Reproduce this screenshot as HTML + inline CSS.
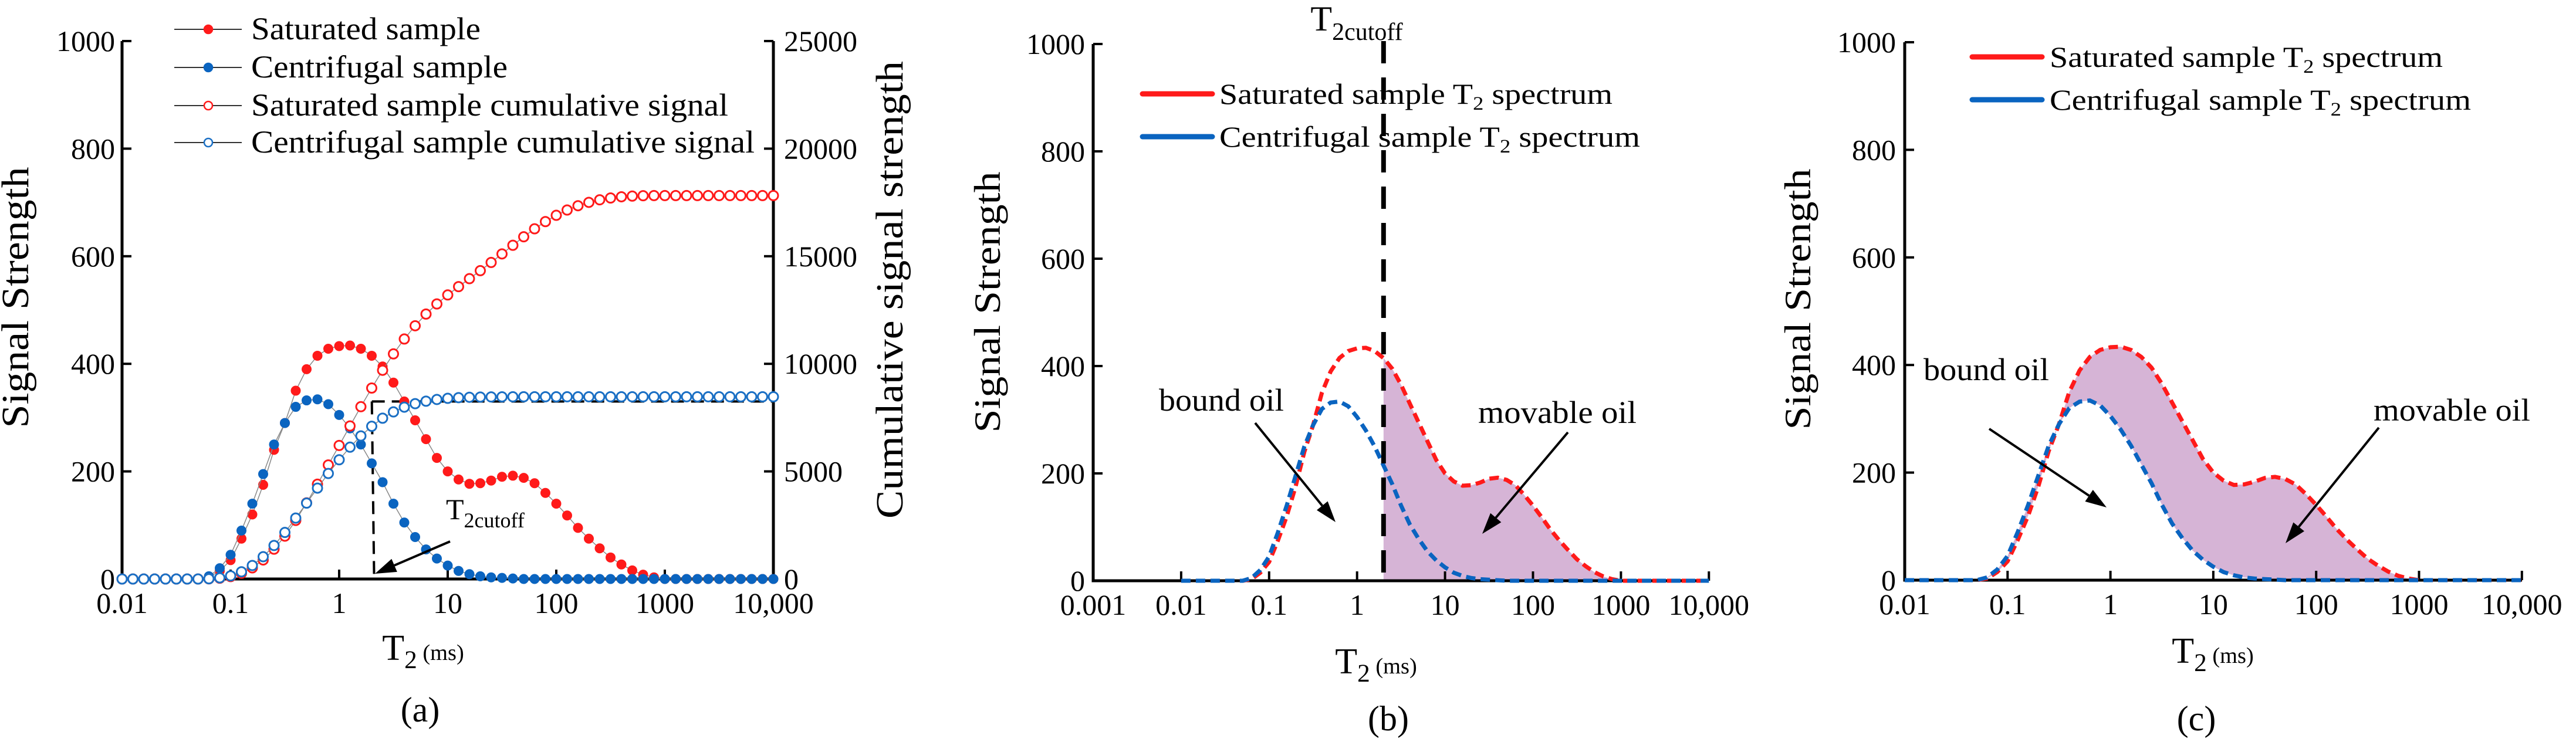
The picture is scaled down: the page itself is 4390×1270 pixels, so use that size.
<!DOCTYPE html>
<html><head><meta charset="utf-8"><style>
html,body{margin:0;padding:0;background:#fff;}
svg{display:block;font-family:"Liberation Serif",serif;}
</style></head><body>
<svg id="fig" xmlns="http://www.w3.org/2000/svg" width="4390" height="1270" viewBox="0 0 4390 1270">
<rect x="0" y="0" width="4390" height="1270" fill="#fff"/>
<g id="pa"></g>
<g id="pb"></g>
<g id="pc"></g>
</svg>
<script>
// log grid: T2 = 10^(-2 + i/10), i = 0..60 (0.01 .. 10000 ms)
const gridExp = [];
for (let i = 0; i <= 60; i++) gridExp.push(-2 + i / 10);
const saturated = [0,0,0,0,0,0,0,0,3,15,35,75,120,175,240,290,350,390,415,428,433,434,428,415,395,365,330,295,260,225,200,185,177,178,183,190,192,188,178,160,140,118,95,75,57,40,27,16,8,3,0,0,0,0,0,0,0,0,0,0,0];
const centrifugal = [0,0,0,0,0,0,0,0,5,20,45,90,140,195,250,290,320,332,334,325,305,280,250,215,180,140,105,78,55,38,25,15,9,5,3,2,1,0,0,0,0,0,0,0,0,0,0,0,0,0,0,0,0,0,0,0,0,0,0,0,0];
const cumFactor = 2.09; // points-per-decade of original acquisition / plotted grid
const cutoffT2 = 2;
const yTicks = [0,200,400,600,800,1000];
const yRightTicks = [0,5000,10000,15000,20000,25000];
const xTickExpA = [-2,-1,0,1,2,3,4];
const xTickLabelsA = ["0.01","0.1","1","10","100","1000","10,000"];
const xTickExpB = [-3,-2,-1,0,1,2,3,4];
const xTickLabelsB = ["0.001","0.01","0.1","1","10","100","1000","10,000"];

const NS = "http://www.w3.org/2000/svg";
function mk(parent, tag, attrs, text) {
  const e = document.createElementNS(NS, tag);
  for (const k in attrs) e.setAttribute(k, attrs[k]);
  if (text !== undefined) e.textContent = text;
  parent.appendChild(e);
  return e;
}
function cumsum(arr) { let s = 0; return arr.map(v => (s += v) * cumFactor); }
const satCum = cumsum(saturated), cenCum = cumsum(centrifugal);

function axes(g, x0, x1, y0, y1, xs, xTickExp, xTickLabels, ys, labelRight, fs) {
  let e = mk(g, 'path', {d:`M${x0},${y1} V${y0} H${x1}`, fill:'none', stroke:'#000', 'stroke-width':5});
   
  yTicks.forEach(v => {
    const y = ys(v);
    let t = mk(g, 'line', {x1:x0, x2:x0+16, y1:y, y2:y, stroke:'#000','stroke-width':4});
     
    let l = mk(g, 'text', {x:labelRight, y:y+17, 'text-anchor':'end','font-size':fs}, String(v));
     
  });
  xTickExp.forEach((ex, k) => {
    const x = xs(Math.pow(10, ex));
    if (k > 0) {
      let t = mk(g, 'line', {x1:x, x2:x, y1:y0, y2:y0-16, stroke:'#000','stroke-width':4});
       
    }
    let l = mk(g, 'text', {x:x, y:y0+58, 'text-anchor':'middle','font-size':fs}, xTickLabels[k]);
     
  });
}
function linePath(xs, ys, vals, from, to) {
  let d = '';
  for (let i = from; i <= to; i++) d += (i === from ? 'M' : 'L') + xs(Math.pow(10, gridExp[i])).toFixed(1) + ',' + ys(vals[i]).toFixed(1);
  return d;
}
function t2Label(g, cx, y, fs) {
  const t = mk(g, 'text', {x:cx, y:y, 'text-anchor':'middle', 'font-size':fs});
   
  mk(t, 'tspan', {}, 'T');
  mk(t, 'tspan', {dy:14, 'font-size':fs*0.7}, '2');
  mk(t, 'tspan', {dy:-14, 'font-size':fs*0.62}, '\u00a0(ms)');
}
function ylabel(g, cx, cy, txt, fs, len, name) {
  const t = mk(g, 'text', {x:0, y:0, transform:`translate(${cx},${cy}) rotate(-90)`, 'text-anchor':'middle', 'font-size':fs, textLength:len, lengthAdjust:'spacingAndGlyphs'}, txt);
   
}
function arrow(g, x1, y1, x2, y2, name) {
  const a = Math.atan2(y2-y1, x2-x1), L = 36, W = 12;
  const bx = x2 - L*Math.cos(a), by = y2 - L*Math.sin(a);
  const grp = mk(g, 'g', {});
   
  mk(grp, 'line', {x1:x1, y1:y1, x2:bx, y2:by, stroke:'#000', 'stroke-width':4});
  mk(grp, 'polygon', {points:`${x2},${y2} ${bx - W*Math.sin(a)},${by + W*Math.cos(a)} ${bx + W*Math.sin(a)},${by - W*Math.cos(a)}`, fill:'#000'});
}
function legendSub(g, x, y, main, tail, fs, len, name) {
  const t = mk(g, 'text', {x:x, y:y, 'font-size':fs, textLength:len, lengthAdjust:'spacingAndGlyphs'});
   
  mk(t, 'tspan', {}, main);
  mk(t, 'tspan', {dy:10, 'font-size':fs*0.65}, '2');
  mk(t, 'tspan', {dy:-10}, tail);
}

/* ---------- Panel A ---------- */
(function(){
  const g = document.getElementById('pa');
  const x0 = 208, x1 = 1318, y0 = 987, y1 = 70;
  const xs = t => x0 + 185 * (Math.log10(t) + 2);
  const ys = v => y0 - (y0 - y1) * v / 1000;
  const yr = v => y0 - (y0 - y1) * v / 25000;
  axes(g, x0, x1, y0, y1, xs, xTickExpA, xTickLabelsA, ys, 196, 50);
  let r = mk(g, 'line', {x1:x1, x2:x1, y1:y0, y2:y1, stroke:'#000', 'stroke-width':5});
   
  yRightTicks.forEach(v => {
    const y = yr(v);
    let t = mk(g, 'line', {x1:x1, x2:x1-16, y1:y, y2:y, stroke:'#000','stroke-width':4});
     
    let l = mk(g, 'text', {x:1336, y:y+17, 'font-size':50}, String(v));
     
  });
  // cutoff dashed guides
  const cx = xs(cutoffT2), cyv = ys(330);
  let d1 = mk(g, 'path', {d:`M${cx},${cyv} H${x1} M${cx},${cyv} L${xs(2.1)},${y0}`, fill:'none', stroke:'#000','stroke-width':4,'stroke-dasharray':'22 12'});
   
  const series = [
    {vals:saturated, scale:ys, color:'#ff1a1a', fill:true, name:'saturated-series'},
    {vals:centrifugal, scale:ys, color:'#0a64c0', fill:true, name:'centrifugal-series'},
    {vals:satCum, scale:yr, color:'#ff1a1a', fill:false, name:'saturated-cumulative-series'},
    {vals:cenCum, scale:yr, color:'#1a6fc4', fill:false, name:'centrifugal-cumulative-series'}
  ];
  series.forEach(s => {
    const sg = mk(g, 'g', {});
     
    mk(sg, 'path', {d:linePath(xs, s.scale, s.vals, 0, 60), fill:'none', stroke:'#888', 'stroke-width':1.5});
    for (let i = 0; i <= 60; i++) {
      const c = mk(sg, 'circle', {cx:xs(Math.pow(10, gridExp[i])), cy:s.scale(s.vals[i]), r:8,
        fill: s.fill ? s.color : '#fff', stroke:s.color, 'stroke-width': s.fill ? 1 : 3});
       
    }
  });
  arrow(g, 767, 923, 639, 978, 'cutoff-arrow');
  const tc = mk(g, 'text', {x:760, y:885, 'font-size':50});
   
  mk(tc, 'tspan', {}, 'T'); mk(tc, 'tspan', {dy:14, 'font-size':36}, '2cutoff');
  // legend
  const leg = [['#ff1a1a', true, 'Saturated sample', 391], ['#0a64c0', true, 'Centrifugal sample', 437],
               ['#ff1a1a', false, 'Saturated sample cumulative signal', 813], ['#1a6fc4', false, 'Centrifugal sample cumulative signal', 858]];
  const lys = [50, 115, 180, 243];
  leg.forEach((L, k) => {
    const lg = mk(g, 'g', {});
     
    mk(lg, 'line', {x1:297, x2:412, y1:lys[k], y2:lys[k], stroke:'#333', 'stroke-width':2});
    mk(lg, 'circle', {cx:355, cy:lys[k], r:7, fill: L[1] ? L[0] : '#fff', stroke:L[0], 'stroke-width':2.5});
    mk(lg, 'text', {x:428, y:lys[k]+17, 'font-size':54, textLength:L[3], lengthAdjust:'spacingAndGlyphs'}, L[2]);
  });
  ylabel(g, 48, 507, 'Signal Strength', 66, 445, 'y-axis-title');
  ylabel(g, 1538, 494, 'Cumulative signal strength', 66, 780, 'right-y-axis-title');
  t2Label(g, 721, 1125, 62);
  const pl = mk(g, 'text', {x:716, y:1230, 'text-anchor':'middle', 'font-size':60}, '(a)');
   
})();

/* ---------- Panel B ---------- */
(function(){
  const g = document.getElementById('pb');
  const x0 = 1863, x1 = 2912, y0 = 990, y1 = 75;
  const xs = t => x0 + 149.9 * (Math.log10(t) + 3);
  const ys = v => y0 - (y0 - y1) * v / 1000;
  // fill movable oil: under saturated curve for T2 >= cutoff
  const iCut = gridExp.findIndex(e => Math.pow(10, e) >= cutoffT2 - 0.01);
  let d = `M${xs(cutoffT2)},${y0} L${xs(cutoffT2)},${ys(saturated[iCut])}` + linePath(xs, ys, saturated, iCut, 50).replace(/^M/, 'L') + `L${xs(Math.pow(10, gridExp[50]))},${y0}Z`;
  let f = mk(g, 'path', {d:d, fill:'#d6b4d6'});
   
  axes(g, x0, x1, y0, y1, xs, xTickExpB, xTickLabelsB, ys, 1849, 50);
  let rc = mk(g, 'path', {d:linePath(xs, ys, saturated, 0, 60), fill:'none', stroke:'#ff1a1a','stroke-width':7,'stroke-dasharray':'16 9'});
   
  let bc = mk(g, 'path', {d:linePath(xs, ys, centrifugal, 0, 60), fill:'none', stroke:'#0a64c0','stroke-width':7,'stroke-dasharray':'16 9'});
   
  let cl = mk(g, 'line', {x1:xs(cutoffT2), x2:xs(cutoffT2), y1:70, y2:y0, stroke:'#000','stroke-width':8,'stroke-dasharray':'38 24'});
   
  const tc = mk(g, 'text', {x:2312, y:52, 'font-size':60, 'text-anchor':'middle'});
   
  mk(tc, 'tspan', {}, 'T'); mk(tc, 'tspan', {dy:16, 'font-size':42}, '2cutoff');
  [['#ff1a1a', 160, 'Saturated sample ', ' spectrum', 670, 'legend-saturated'], ['#0a64c0', 233, 'Centrifugal sample ', ' spectrum', 717, 'legend-centrifugal']].forEach(L => {
    let ln = mk(g, 'line', {x1:1947, x2:2066, y1:L[1], y2:L[1], stroke:L[0], 'stroke-width':9, 'stroke-linecap':'round'});
     
    legendSub(g, 2078, L[1]+17, L[2] + 'T', L[3], 50, L[4], L[5]);
  });
  let bo = mk(g, 'text', {x:1975, y:700, 'font-size':54, textLength:213, lengthAdjust:'spacingAndGlyphs'}, 'bound oil');
   
  arrow(g, 2139, 721, 2276, 890, 'bound-oil-arrow');
  let mo = mk(g, 'text', {x:2519, y:721, 'font-size':54, textLength:270, lengthAdjust:'spacingAndGlyphs'}, 'movable oil');
   
  arrow(g, 2672, 737, 2526, 910, 'movable-oil-arrow');
  ylabel(g, 1704, 515, 'Signal Strength', 64, 445, 'y-axis-title');
  t2Label(g, 2345, 1148, 62);
  const pl = mk(g, 'text', {x:2366, y:1245, 'text-anchor':'middle', 'font-size':60}, '(b)');
   
})();

/* ---------- Panel C ---------- */
(function(){
  const g = document.getElementById('pc');
  const x0 = 3246, x1 = 4298, y0 = 989, y1 = 72;
  const xs = t => x0 + 175.3 * (Math.log10(t) + 2);
  const ys = v => y0 - (y0 - y1) * v / 1000;
  let d = linePath(xs, ys, saturated, 8, 50);
  for (let i = 50; i >= 8; i--) d += 'L' + xs(Math.pow(10, gridExp[i])).toFixed(1) + ',' + ys(centrifugal[i]).toFixed(1);
  let f = mk(g, 'path', {d:d + 'Z', fill:'#d6b4d6'});
   
  axes(g, x0, x1, y0, y1, xs, xTickExpA, xTickLabelsA, ys, 3231, 50);
  let rc = mk(g, 'path', {d:linePath(xs, ys, saturated, 0, 60), fill:'none', stroke:'#ff1a1a','stroke-width':7,'stroke-dasharray':'16 9'});
   
  let bc = mk(g, 'path', {d:linePath(xs, ys, centrifugal, 0, 60), fill:'none', stroke:'#0a64c0','stroke-width':7,'stroke-dasharray':'16 9'});
   
  [['#ff1a1a', 97, 'Saturated sample ', ' spectrum', 670, 'legend-saturated'], ['#0a64c0', 170, 'Centrifugal sample ', ' spectrum', 718, 'legend-centrifugal']].forEach(L => {
    let ln = mk(g, 'line', {x1:3361, x2:3480, y1:L[1], y2:L[1], stroke:L[0], 'stroke-width':9, 'stroke-linecap':'round'});
     
    legendSub(g, 3493, L[1]+17, L[2] + 'T', L[3], 50, L[4], L[5]);
  });
  let bo = mk(g, 'text', {x:3278, y:648, 'font-size':54, textLength:214, lengthAdjust:'spacingAndGlyphs'}, 'bound oil');
   
  arrow(g, 3390, 731, 3590, 865, 'bound-oil-arrow');
  let mo = mk(g, 'text', {x:4045, y:717, 'font-size':54, textLength:267, lengthAdjust:'spacingAndGlyphs'}, 'movable oil');
   
  arrow(g, 4054, 729, 3895, 926, 'movable-oil-arrow');
  ylabel(g, 3085, 510, 'Signal Strength', 64, 445, 'y-axis-title');
  t2Label(g, 3771, 1130, 62);
  const pl = mk(g, 'text', {x:3743, y:1245, 'text-anchor':'middle', 'font-size':60}, '(c)');
   
})();
</script>
</body></html>
